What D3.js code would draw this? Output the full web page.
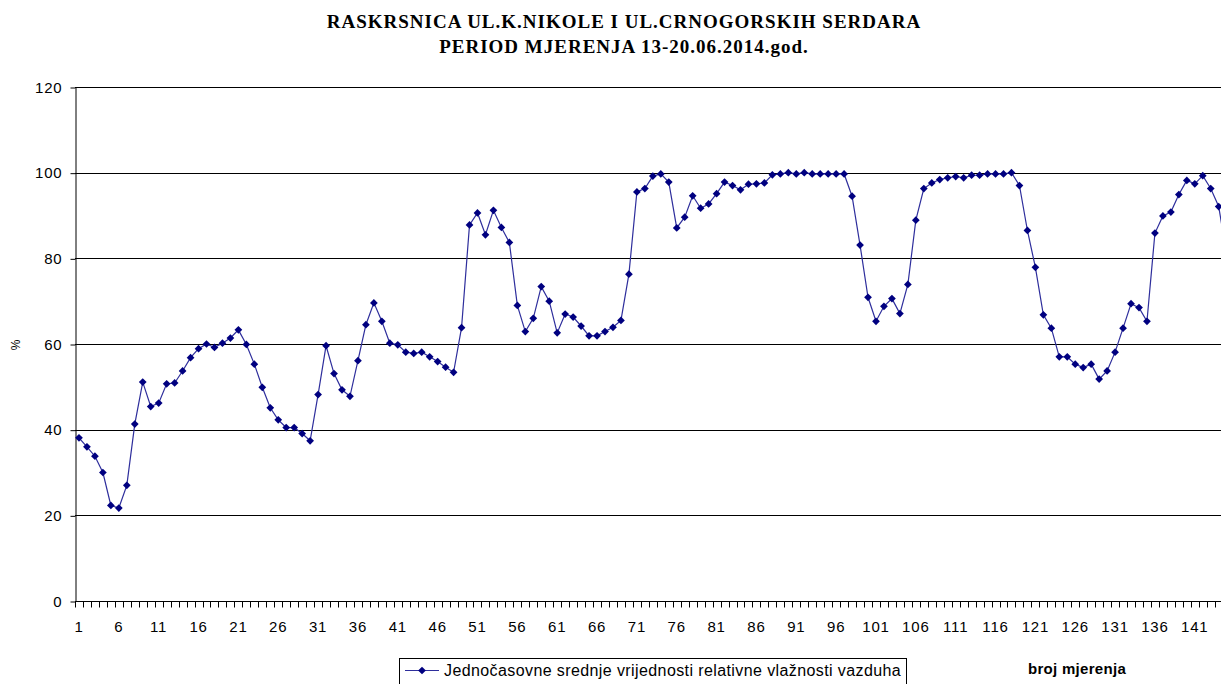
<!DOCTYPE html>
<html>
<head>
<meta charset="utf-8">
<script src="https://cdn.jsdelivr.net/npm/d3@7"></script>
<style>
  html, body { margin: 0; padding: 0; background: #fff; overflow: hidden; }
  svg { display: block; }
</style>
</head>
<body>
<div id="chart"></div>
<script>
// chart data
var titleLines = ["RASKRSNICA UL.K.NIKOLE I UL.CRNOGORSKIH SERDARA", "PERIOD MJERENJA 13-20.06.2014.god."];
var seriesName = "Jednočasovne srednje vrijednosti relativne vlažnosti vazduha";
var yTicks = [0, 20, 40, 60, 80, 100, 120];
var humidity = [
  38.1, 36.0, 33.8, 30.0, 22.3, 21.7, 27.0, 41.3, 51.1, 45.4,
  46.2, 50.7, 50.9, 53.7, 56.8, 58.9, 60.0, 59.2, 60.2, 61.4,
  63.3, 59.9, 55.3, 49.9, 45.1, 42.3, 40.5, 40.5, 39.1, 37.4,
  48.2, 59.6, 53.1, 49.3, 47.8, 56.1, 64.5, 69.6, 65.3, 60.2,
  59.8, 58.1, 57.8, 58.1, 57.0, 55.9, 54.6, 53.4, 63.8, 87.8,
  90.6, 85.5, 91.2, 87.2, 83.7, 69.0, 62.9, 66.0, 73.4, 70.0,
  62.6, 67.0, 66.3, 64.2, 61.9, 61.9, 62.9, 63.9, 65.5, 76.3,
  95.5, 96.3, 99.2, 99.7, 97.8, 87.1, 89.6, 94.6, 91.7, 92.7,
  95.1, 97.8, 97.0, 96.0, 97.3, 97.4, 97.6, 99.5, 99.7, 100.0,
  99.7, 100.0, 99.7, 99.7, 99.7, 99.7, 99.7, 94.5, 83.1, 70.9,
  65.3, 68.8, 70.6, 67.1, 73.9, 88.9, 96.3, 97.6, 98.4, 98.8,
  99.1, 98.8, 99.4, 99.4, 99.7, 99.7, 99.7, 100.0, 97.0, 86.5,
  77.9, 66.8, 63.7, 57.0, 57.0, 55.3, 54.5, 55.3, 51.8, 53.7,
  58.1, 63.7, 69.4, 68.5, 65.3, 85.9, 89.9, 90.8, 94.9, 98.2,
  97.4, 99.3, 96.3, 92.1, 81.0
];
var categories = humidity.map(function(d, i) { return i + 1; });
var xTickLabels = categories.filter(function(c) { return (c - 1) % 5 === 0; });

var svgWidth = 1221;
var svgHeight = 684;

var margin = { top: 87, left: 75 };
var step = 7.97;
var plotHeight = 514;
var plotRight = margin.left + categories.length * step;

var svg = d3.select("#chart")
  .append("svg")
  .attr("width", svgWidth)
  .attr("height", svgHeight)
  .style("font-family", "Arial, 'Liberation Sans', sans-serif");

var xScale = d3.scaleBand()
  .domain(categories)
  .range([margin.left, plotRight])
  .padding(0);

var yScale = d3.scaleLinear()
  .domain([0, 120])
  .range([margin.top + plotHeight, margin.top]);

// titles
svg.selectAll("text.title")
  .data(titleLines)
  .enter()
  .append("text")
  .attr("class", "title")
  .attr("x", 624)
  .attr("y", function(d, i) { return 28 + i * 25; })
  .attr("text-anchor", "middle")
  .style("font-family", "'Liberation Serif', 'Times New Roman', serif")
  .style("font-weight", "bold")
  .style("font-size", "19px")
  .style("letter-spacing", "1px")
  .text(function(d) { return d; });

// horizontal gridlines
svg.append("g")
  .selectAll("line")
  .data(yTicks.filter(function(t) { return t > 0; }))
  .enter()
  .append("line")
  .attr("x1", margin.left)
  .attr("x2", svgWidth)
  .attr("y1", function(d) { return Math.round(yScale(d)) + 0.5; })
  .attr("y2", function(d) { return Math.round(yScale(d)) + 0.5; })
  .attr("stroke", "#000")
  .attr("stroke-width", 1);

// y axis
var yAxis = svg.append("g")
  .attr("transform", "translate(" + (margin.left + 0.5) + ",0.5)")
  .call(d3.axisLeft(yScale).tickValues(yTicks).tickSize(5).tickSizeOuter(0).tickPadding(8));

yAxis.selectAll("text")
  .style("font-size", "15px")
  .style("letter-spacing", "0.8px")
  .attr("fill", "#000");

yAxis.select(".domain").attr("stroke", "#000");

// x axis, ticks between categories
var xAxis = svg.append("g")
  .attr("transform", "translate(0," + (Math.round(yScale(0)) + 0.5) + ")");

xAxis.append("line")
  .attr("x1", margin.left)
  .attr("x2", svgWidth)
  .attr("stroke", "#000");

xAxis.selectAll("line.tick")
  .data(categories)
  .enter()
  .append("line")
  .attr("class", "tick")
  .attr("x1", function(d) { return Math.round(xScale(d)) + 0.5; })
  .attr("x2", function(d) { return Math.round(xScale(d)) + 0.5; })
  .attr("y1", 0)
  .attr("y2", 6)
  .attr("stroke", "#000");

xAxis.selectAll("text")
  .data(xTickLabels)
  .enter()
  .append("text")
  .attr("x", function(d) { return xScale(d) + xScale.bandwidth() / 2; })
  .attr("y", 30)
  .attr("text-anchor", "middle")
  .style("font-size", "15px")
  .style("letter-spacing", "0.8px")
  .text(function(d) { return d; });

// axis titles
svg.append("text")
  .attr("transform", "translate(20,345) rotate(-90)")
  .attr("text-anchor", "middle")
  .style("font-size", "12px")
  .text("%");

svg.append("text")
  .attr("x", 1077)
  .attr("y", 674)
  .attr("text-anchor", "middle")
  .style("font-size", "15px")
  .style("font-weight", "bold")
  .style("letter-spacing", "0.3px")
  .text("broj mjerenja");

// the series line and markers
var line = d3.line()
  .x(function(d, i) { return xScale(categories[i]) + xScale.bandwidth() / 2; })
  .y(function(d) { return yScale(d); });

svg.append("path")
  .datum(humidity)
  .attr("d", line)
  .attr("fill", "none")
  .attr("stroke", "#2e2e9c")
  .attr("stroke-width", 1.2);

var diamond = d3.symbol().type(d3.symbolSquare).size(30);

svg.selectAll("path.marker")
  .data(humidity)
  .enter()
  .append("path")
  .attr("class", "marker")
  .attr("d", diamond)
  .attr("transform", function(d, i) {
    return "translate(" + (xScale(categories[i]) + xScale.bandwidth() / 2) + "," + yScale(d) + ") rotate(45)";
  })
  .attr("fill", "#000080");

// legend
var legend = svg.append("g").attr("transform", "translate(399,658)");

legend.append("rect")
  .attr("x", 0.5)
  .attr("y", 0.5)
  .attr("width", 507)
  .attr("height", 40)
  .attr("fill", "#fff")
  .attr("stroke", "#000");

legend.append("line")
  .attr("x1", 6)
  .attr("x2", 40)
  .attr("y1", 12.5)
  .attr("y2", 12.5)
  .attr("stroke", "#2e2e9c")
  .attr("stroke-width", 1.2);

legend.append("path")
  .attr("d", diamond)
  .attr("transform", "translate(23,12.5) rotate(45)")
  .attr("fill", "#000080");

legend.append("text")
  .attr("x", 45)
  .attr("y", 18)
  .style("font-size", "16px")
  .style("letter-spacing", "0.4px")
  .text(seriesName);
</script>
</body>
</html>
